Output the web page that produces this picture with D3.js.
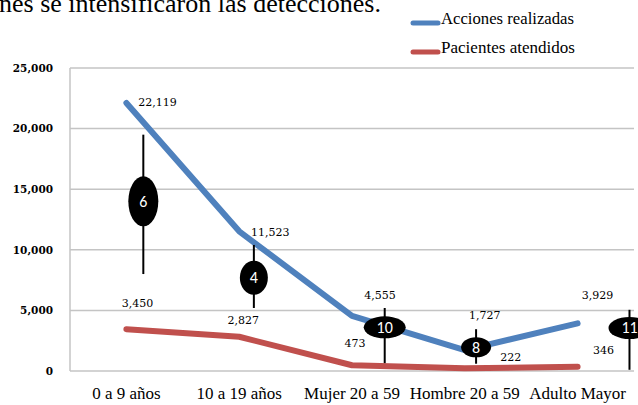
<!DOCTYPE html>
<html>
<head>
<meta charset="utf-8">
<script src="https://cdn.jsdelivr.net/npm/d3@7"></script>
<style>
  body { margin: 0; background: #fff; }
  svg { display: block; }
  .serif { font-family: "Liberation Serif", "DejaVu Serif", serif; fill: #000; }
  .dserif { font-family: "DejaVu Serif", serif; fill: #000; }
</style>
</head>
<body>
<script>
// Data
var categories = ["0 a 9 años", "10 a 19 años", "Mujer 20 a 59", "Hombre 20 a 59", "Adulto Mayor"];
var acciones = [22119, 11523, 4555, 1727, 3929];
var pacientes = [3450, 2827, 473, 222, 346];
var yTicks = [0, 5000, 10000, 15000, 20000, 25000];
var seriesNames = ["Acciones realizadas", "Pacientes atendidos"];

// black oval markers (number, position in category units, line top / bottom, oval centre)
var markerCounts = [6, 4, 10, 8, 11];
var markerPos = [0.15, 1.13, 2.29, 3.1, 4.46];
var markerHigh = [19500, 10400, 5200, 3450, 5050];
var markerLow = [8000, 5200, 650, 600, 100];
var markerMid = [14000, 7700, 3600, 1950, 3550];

// layout (not data)
var markerRx = [15, 14, 21, 15, 21],
    markerRy = [25, 17, 11, 10, 11];
var blueLabelOff = [[31, -1], [31, 1], [28, -21], [20, -35], [20, -28]],
    redLabelOff = [[11, -26], [4, -17], [3, -22], [46, -11], [26, -17]];

var W = 638, H = 405;
var margin = {top: 68, right: 4, bottom: 34, left: 70},
    width = W - margin.left - margin.right,
    height = H - margin.top - margin.bottom;

var fmt = d3.format(",");

var svg = d3.select("body").append("svg")
    .attr("width", W)
    .attr("height", H);

// Cropped sentence from the page above the chart
svg.append("text")
    .attr("class", "serif")
    .attr("x", -1)
    .attr("y", 12)
    .style("font-size", "26px")
    .text("nes se intensificaron las detecciones.");

var g = svg.append("g")
    .attr("transform", "translate(" + margin.left + "," + margin.top + ")");

// Scales
var xScale = d3.scaleBand().domain(categories).range([0, width]).padding(0);
var xIdx = d3.scaleLinear().domain([0, categories.length - 1])
    .range([xScale.bandwidth() / 2, width - xScale.bandwidth() / 2]);
var yScale = d3.scaleLinear().domain([0, 25000]).range([height, 0]);

// Gridlines
g.selectAll(".grid")
    .data(yTicks)
    .enter().append("line")
    .attr("x1", 0)
    .attr("x2", width)
    .attr("y1", function (d) { return yScale(d); })
    .attr("y2", function (d) { return yScale(d); })
    .attr("stroke", "#c4c4c4")
    .attr("stroke-width", 1.5);

// left axis line
g.append("line")
    .attr("x1", 0).attr("x2", 0)
    .attr("y1", 0).attr("y2", height)
    .attr("stroke", "#c4c4c4")
    .attr("stroke-width", 1.5);

// Y axis labels
var yAxis = g.append("g")
    .call(d3.axisLeft(yScale).tickValues(yTicks).tickFormat(fmt).tickSize(0).tickPadding(17));
yAxis.select(".domain").remove();
yAxis.selectAll("text")
    .attr("class", "dserif")
    .style("font-size", "10.5px")
    .style("font-weight", "bold");

// X axis labels
var xAxis = g.append("g")
    .attr("transform", "translate(0," + height + ")")
    .call(d3.axisBottom(xScale).tickSize(0).tickPadding(16));
xAxis.select(".domain").remove();
xAxis.selectAll("text")
    .attr("class", "serif")
    .style("font-size", "17px");

// Lines
var line = d3.line()
    .x(function (d, i) { return xIdx(i); })
    .y(function (d) { return yScale(d); });

g.append("path")
    .datum(pacientes)
    .attr("d", line)
    .attr("fill", "none")
    .attr("stroke", "#c0504d")
    .attr("stroke-width", 6)
    .attr("stroke-linecap", "round")
    .attr("stroke-linejoin", "round");

g.append("path")
    .datum(acciones)
    .attr("d", line)
    .attr("fill", "none")
    .attr("stroke", "#4f81bd")
    .attr("stroke-width", 6)
    .attr("stroke-linecap", "round")
    .attr("stroke-linejoin", "round");

// Data labels
function addLabels(values, off) {
    g.selectAll(null)
        .data(values)
        .enter().append("text")
        .attr("class", "dserif")
        .attr("text-anchor", "middle")
        .attr("x", function (d, i) { return xIdx(i) + off[i][0]; })
        .attr("y", function (d, i) { return yScale(d) + off[i][1] + 4; })
        .style("font-size", "11px")
        .text(function (d) { return fmt(d); });
}
addLabels(acciones, blueLabelOff);
addLabels(pacientes, redLabelOff);

// Markers
var mk = g.selectAll(".marker")
    .data(markerCounts)
    .enter().append("g")
    .attr("class", "marker");

mk.append("line")
    .attr("x1", function (d, i) { return xIdx(markerPos[i]); })
    .attr("x2", function (d, i) { return xIdx(markerPos[i]); })
    .attr("y1", function (d, i) { return yScale(markerHigh[i]); })
    .attr("y2", function (d, i) { return yScale(markerLow[i]); })
    .attr("stroke", "#000")
    .attr("stroke-width", 2);

mk.append("ellipse")
    .attr("cx", function (d, i) { return xIdx(markerPos[i]); })
    .attr("cy", function (d, i) { return yScale(markerMid[i]); })
    .attr("rx", function (d, i) { return markerRx[i]; })
    .attr("ry", function (d, i) { return markerRy[i]; })
    .attr("fill", "#000");

mk.append("text")
    .attr("x", function (d, i) { return xIdx(markerPos[i]); })
    .attr("y", function (d, i) { return yScale(markerMid[i]) + 5.5; })
    .attr("text-anchor", "middle")
    .style("font-family", "Carlito, 'Open Sans', sans-serif")
    .style("font-size", "16px")
    .attr("fill", "#fff")
    .text(function (d) { return d; });

// Legend
var legend = svg.selectAll(".legend")
    .data(seriesNames)
    .enter().append("g")
    .attr("class", "legend")
    .attr("transform", function (d, i) { return "translate(413," + (23 + i * 29) + ")"; });

legend.append("line")
    .attr("x1", 0).attr("x2", 25)
    .attr("y1", 0).attr("y2", 0)
    .attr("stroke", function (d, i) { return i === 0 ? "#4f81bd" : "#c0504d"; })
    .attr("stroke-width", 5)
    .attr("stroke-linecap", "round");

legend.append("text")
    .attr("class", "serif")
    .attr("x", 28)
    .attr("y", 1)
    .style("font-size", "17px")
    .attr("lengthAdjust", "spacingAndGlyphs")
    .attr("textLength", function (d, i) { return i === 0 ? 133 : 134; })
    .text(function (d) { return d; });
</script>
</body>
</html>
